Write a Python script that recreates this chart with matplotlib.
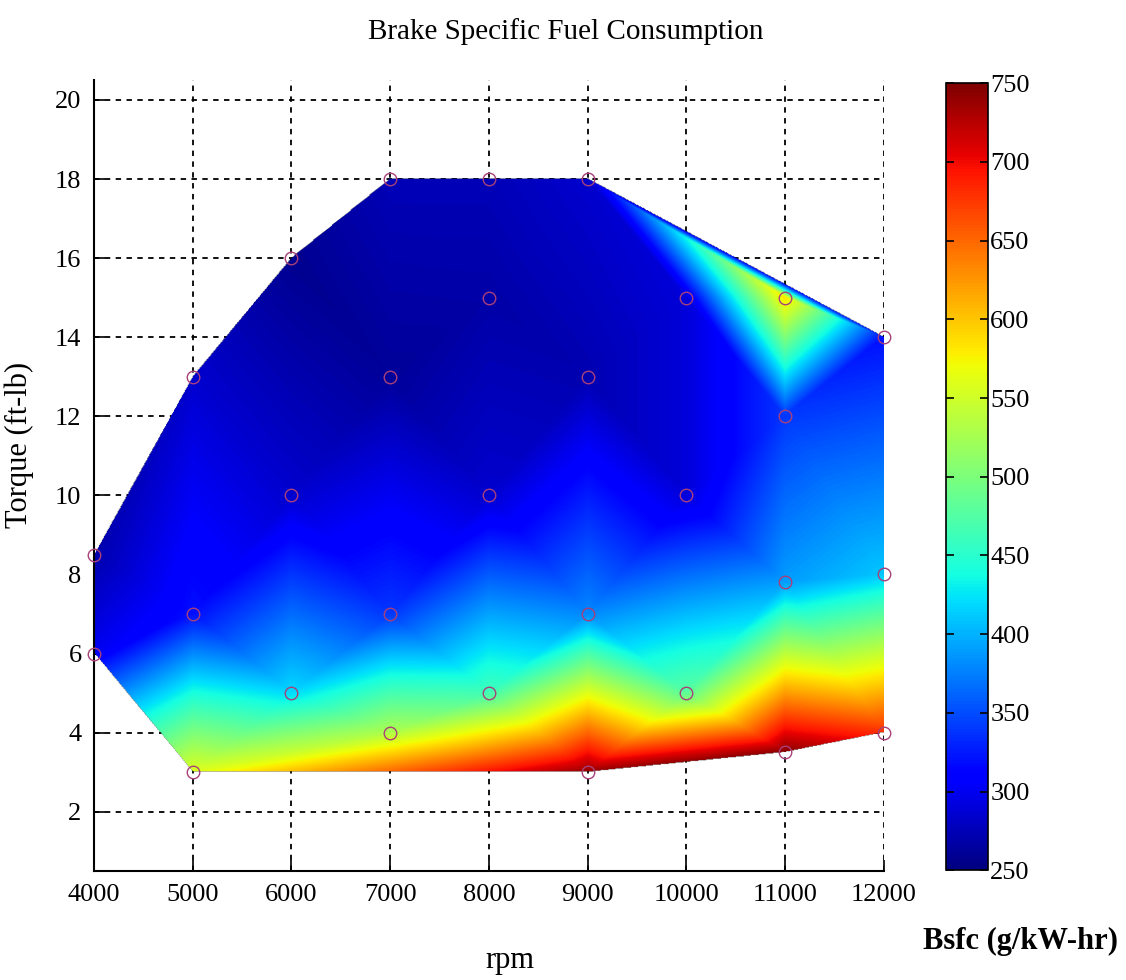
import numpy as np
import matplotlib
matplotlib.use("Agg")
import matplotlib.pyplot as plt
import matplotlib.tri as mtri

plt.rcParams['font.family'] = ['Liberation Serif', 'DejaVu Serif']

# measured points: engine speed, torque, bsfc
rpm = [4000, 4000,
       5000, 5000, 5000,
       6000, 6000, 6000,
       7000, 7000, 7000, 7000,
       8000, 8000, 8000, 8000,
       9000, 9000, 9000, 9000,
       10000, 10000, 10000,
       11000, 11000, 11000, 11000,
       12000, 12000, 12000]
torque = [8.5, 6,
          13, 7, 3,
          16, 10, 5,
          18, 13, 7, 4,
          18, 15, 10, 5,
          18, 13, 7, 3,
          15, 10, 5,
          15, 12, 7.8, 3.5,
          14, 8, 4]
bsfc = [270, 300,
        285, 320, 560,
        258, 285, 420,
        275, 262, 340, 530,
        275, 268, 285, 465,
        285, 272, 380, 740,
        290, 290, 480,
        585, 340, 390, 745,
        320, 410, 680]

xticks = [4000, 5000, 6000, 7000, 8000, 9000, 10000, 11000, 12000]
yticks = [2, 4, 6, 8, 10, 12, 14, 16, 18, 20]
cticks = [250, 300, 350, 400, 450, 500, 550, 600, 650, 700, 750]

fig = plt.figure(figsize=(11.26, 9.8), dpi=100)
ax = fig.add_axes([0.0835, 0.1112, 0.7015, 0.807])
cax = fig.add_axes([0.840, 0.112, 0.037, 0.803])

# linear interpolation over the delaunay triangles, like griddata
tri = mtri.Triangulation(rpm, torque)
interp = mtri.LinearTriInterpolator(tri, bsfc)
gx, gy = np.meshgrid(np.linspace(4000, 12000, 800), np.linspace(2.9, 18.1, 800))
gz = interp(gx, gy)
im = ax.imshow(gz, origin='lower', extent=(4000, 12000, 2.9, 18.1), aspect='auto',
               cmap='jet', vmin=250, vmax=750, interpolation='bilinear', zorder=1)
ax.plot(rpm, torque, 'o', ms=9, mfc='none', mec='#a8407a', mew=1.0, clip_on=False, zorder=3)

ax.set_xlim(4000, 12000)
ax.set_ylim(0.5, 20.5)
ax.set_xticks(xticks)
ax.set_yticks(yticks)
ax.set_axisbelow(True)
ax.grid(True, color='black', linestyle=(0, (3, 3)), linewidth=1.3)
ax.tick_params(direction='in', length=8, width=1.2, labelsize=19, pad=9)
ax.spines['top'].set_visible(False)
ax.spines['right'].set_visible(False)
ax.spines['left'].set_linewidth(1.5)
ax.spines['bottom'].set_linewidth(1.5)

ax.set_xlabel('rpm', fontsize=22)
ax.xaxis.set_label_coords(0.527, -0.095)
ax.set_ylabel('Torque (ft-lb)', fontsize=22)
ax.yaxis.set_label_coords(-0.076, 0.539)
fig.text(0.502, 0.968, 'Brake Specific Fuel Consumption', ha='center', va='center', fontsize=21)

cb = fig.colorbar(im, cax=cax, ticks=cticks)
cb.outline.set_linewidth(1.2)
cax.tick_params(direction='in', length=6, width=1.2, labelsize=19, left=True, right=True, pad=2)
fig.text(0.906, 0.039, 'Bsfc (g/kW-hr)', ha='center', va='center', fontsize=22, fontweight='bold')

fig.savefig('out.png', dpi=100)
